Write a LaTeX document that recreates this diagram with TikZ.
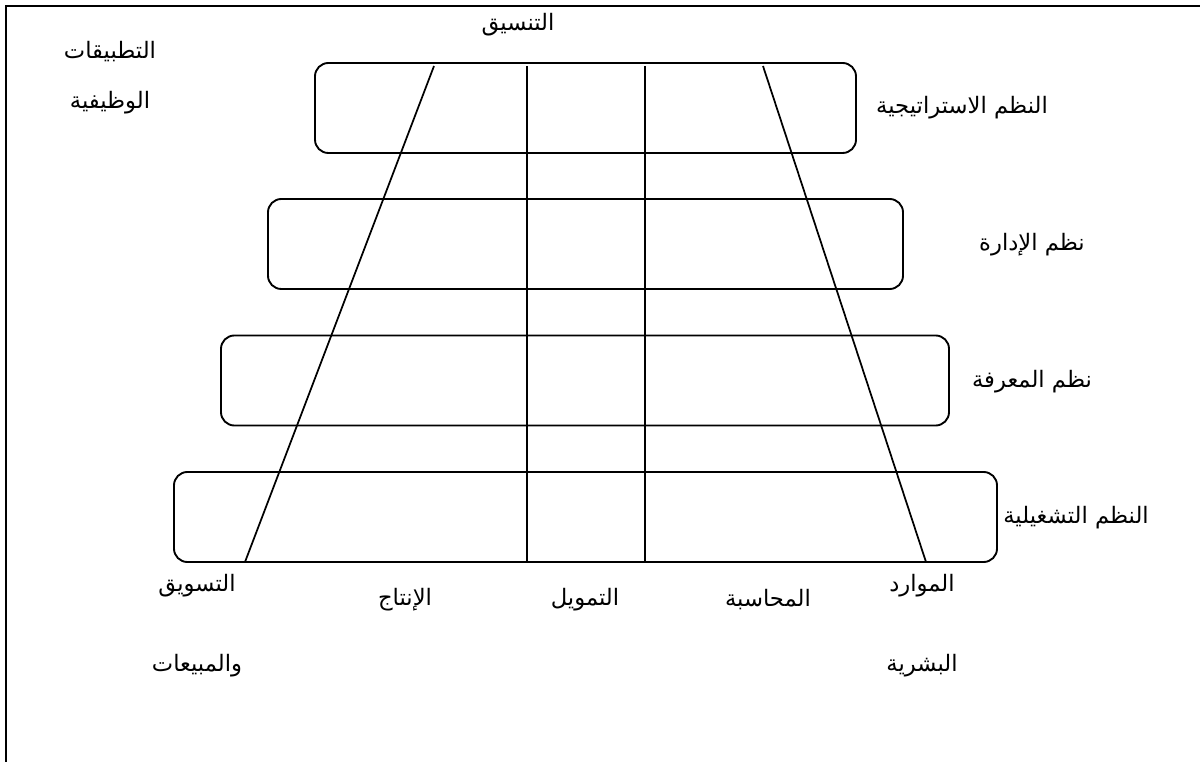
\documentclass[tikz,border=0pt]{standalone}
\usepackage{fontspec}
\TeXXeTstate=1
\newfontfamily\arabicfont[Script=Arabic]{DejaVu Sans}
\begin{document}
\begin{tikzpicture}[x=0.75pt,y=-0.75pt,
  sysbox/.style={draw,line width=1.4pt,rounded corners=10pt,minimum height=67.5pt,inner sep=0pt},
  divline/.style={line width=1.3pt},
  frameline/.style={line width=1.6pt},
  lbl/.style={inner sep=0pt,font=\arabicfont\fontsize{17}{20}\selectfont}]
\useasboundingbox (0,0) rectangle (1200,762);
% frame (only top and left edges visible)
\coordinate (fo) at (6,6);
\coordinate (fr) at (1200,6);
\coordinate (fb) at (6,762);
\draw[frameline] (fr) -- (fo) -- (fb);
% system boxes
\node[sysbox,minimum width=405.75pt] (b1) at (585.5,108) {};
\node[sysbox,minimum width=476.25pt] (b2) at (585.5,244) {};
\node[sysbox,minimum width=546pt] (b3) at (585,380.5) {};
\node[sysbox,minimum width=617.25pt] (b4) at (585.5,517) {};
% dividing lines
\coordinate (s1t) at (434,66);
\coordinate (s1b) at (245,562);
\coordinate (s2t) at (763,66);
\coordinate (s2b) at (926,562);
\coordinate (v1t) at (527,66);
\coordinate (v2t) at (645,66);
\draw[divline] (s1t) -- (s1b);
\draw[divline] (s2t) -- (s2b);
\draw[divline] (v1t) -- (v1t |- b4.south);
\draw[divline] (v2t) -- (v2t |- b4.south);
% labels
\node[lbl] (coord) at (518,25) {\beginR التنسيق\endR};
\node[lbl] (app1) at (110,52) {\beginR التطبيقات\endR};
\node[lbl] (app2) at (110,103) {\beginR الوظيفية\endR};
\node[lbl] (l1) at (962,108) {\beginR النظم الاستراتيجية\endR};
\node[lbl] (l2) at (1032,245) {\beginR نظم الإدارة\endR};
\node[lbl] (l3) at (1032,382) {\beginR نظم المعرفة\endR};
\node[lbl] (l4) at (1076,518) {\beginR النظم التشغيلية\endR};
\node[lbl] (f1a) at (197,586) {\beginR التسويق\endR};
\node[lbl] (f1b) at (197,666) {\beginR والمبيعات\endR};
\node[lbl] (f2) at (405,600) {\beginR الإنتاج\endR};
\node[lbl] (f3) at (585,600) {\beginR التمويل\endR};
\node[lbl] (f4) at (768,600) {\beginR المحاسبة\endR};
\node[lbl] (f5a) at (922,586) {\beginR الموارد\endR};
\node[lbl] (f5b) at (922,666) {\beginR البشرية\endR};
\end{tikzpicture}
\end{document}
